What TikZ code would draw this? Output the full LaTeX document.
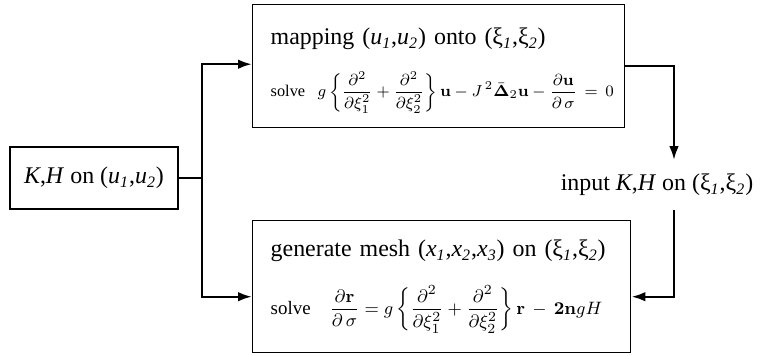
\documentclass[tikz,border=0pt]{standalone}
\usepackage[no-math]{fontspec}
\setmainfont{Liberation Serif}
\usepackage{amsmath}
\usetikzlibrary{arrows.meta,positioning,calc}

\newcommand{\isub}[1]{\textsubscript{\textit{#1}}}
\newcommand{\eqfont}{\fontsize{8.2}{10}\selectfont}
\newcommand{\eqfontb}{\fontsize{9.5}{11}\selectfont}

\begin{document}
\begin{tikzpicture}[x=0.5bp, y=-0.5bp,
  box/.style={draw, line width=0.7bp, align=left, inner xsep=9bp,
    font=\fontsize{12}{14}\selectfont},
  link/.style={line width=1.2bp},
  feed/.style={link, -{Latex[length=7bp,width=4.8bp]}},
]
  \useasboundingbox (0,0) rectangle (762,355);

  \node[box, align=center, inner xsep=2bp, minimum width=84bp, minimum height=31bp] (kh) at (94,178)
    {\textit{K},\textit{H} on (\textit{u}\isub{1},\textit{u}\isub{2})};

  \node[box, anchor=north west, text width=168bp, minimum height=61.5bp] (map) at (252,4)
    {\rule{0pt}{13bp}mapping (\textit{u}\isub{1},\textit{u}\isub{2}) onto (ξ\isub{1},ξ\isub{2})\\[10bp]
     \mbox{\eqfont solve\; $\displaystyle g\left\{\frac{\partial^2}{\partial\xi_1^2}
       +\frac{\partial^2}{\partial\xi_2^2}\right\}\mathbf{u}-J^{\,2}\bar{\mathbf{\Delta}}_2\mathbf{u}
       -\frac{\partial\mathbf{u}}{\partial\,\sigma}\,=\,0$}};

  \node[box, anchor=north west, text width=171bp, minimum height=66bp] (mesh) at (252,220)
    {generate mesh (\textit{x}\isub{1},\textit{x}\isub{2},\textit{x}\isub{3}) on (ξ\isub{1},ξ\isub{2})\\[11bp]
     \mbox{\eqfontb solve\quad $\displaystyle \frac{\partial\mathbf{r}}{\partial\,\sigma} = g\left\{\frac{\partial^2}{\partial\xi_1^2}
       +\frac{\partial^2}{\partial\xi_2^2}\right\}\mathbf{r}\,-\,\mathbf{2n}gH$}};

  \node[font=\fontsize{12}{14}\selectfont, minimum height=24.5bp, inner sep=0pt] (inp) at (657,185)
    {input \textit{K},\textit{H} on (ξ\isub{1},ξ\isub{2})};

  \coordinate (split) at (202,178);
  \coordinate (turn) at (674,0);

  \draw[link] (kh.east) -- (split);
  \draw[feed] (split) |- ([yshift=1bp]map.west);
  \draw[feed] (split) |- ([yshift=-5bp]mesh.west);
  \draw[feed] (map.east) -| (inp.north -| turn);
  \draw[feed] (inp.south -| turn) |- ([yshift=-5bp]mesh.east);
\end{tikzpicture}
\end{document}
